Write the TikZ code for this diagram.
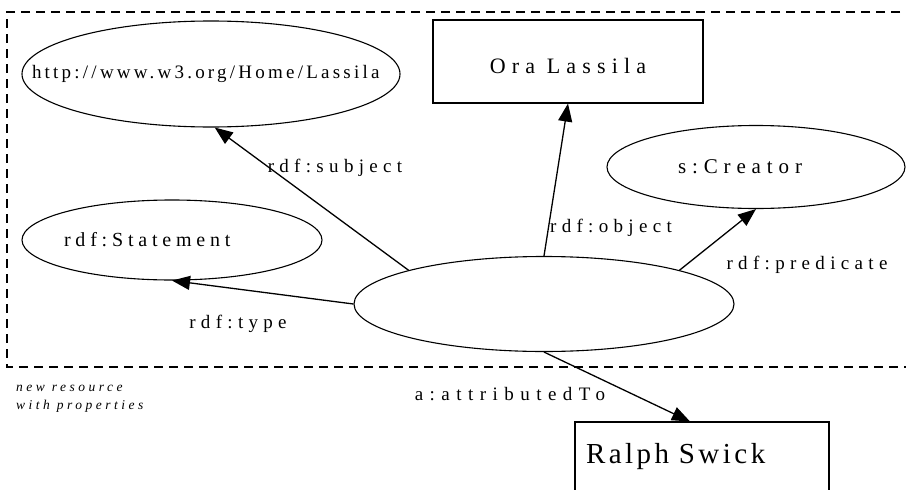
\documentclass[tikz,border=0pt]{standalone}
\usepackage{fontspec}
\setmainfont{Liberation Serif}
\newfontfamily\widefont[LetterSpace=28]{Liberation Serif}
\newfontfamily\urlfont[LetterSpace=17]{Liberation Serif}
\newfontfamily\namefont[LetterSpace=12]{Liberation Serif}
\newfontfamily\notefont[LetterSpace=26]{Liberation Serif}
\usetikzlibrary{positioning,arrows.meta,shapes.geometric}
% text set off the centre of its shape, as the reference has it
\newcommand{\offtext}[2]{\makebox[0pt][l]{\hspace*{-#1}#2}}

\begin{document}
\begin{tikzpicture}[x=1pt,y=-1pt,
  res/.style={ellipse,draw,line width=1.1pt,inner sep=0pt},
  lit/.style={rectangle,draw,line width=1.1pt,inner sep=0pt},
  arc/.style={-{Triangle[length=18pt,width=14pt]},line width=1.3pt},
  lbl/.style={font=\fontsize{19}{22}\selectfont\widefont,inner sep=0pt},
  frame/.style={line width=1.5pt,dash pattern=on 9pt off 6pt}]
\useasboundingbox (0,0) rectangle (906,490);
\clip (0,0) rectangle (906,490);
% grouping box round the reified statement
\draw[frame] (915,12) -| (7,367) -- (915,367);
% ===== resources and literals =====
\node[res,minimum width=378,minimum height=106,font=\fontsize{19}{22}\selectfont\urlfont]
  (url) at (211,74) {\offtext{179pt}{http://www.w3.org/Home/Lassila}};
\node[lit,minimum width=270,minimum height=83,font=\fontsize{22}{26}\selectfont\widefont]
  (ora) at (568,61.5) {\raisebox{-12pt}[0pt][0pt]{Ora Lassila}};
\node[res,minimum width=298,minimum height=83,font=\fontsize{21}{25}\selectfont\widefont]
  (creator) at (756,167) {\offtext{78pt}{s:Creator}};
\node[res,minimum width=300,minimum height=80,font=\fontsize{20}{24}\selectfont\widefont\addfontfeatures{LetterSpace=24}]
  (stmt) at (172,240) {\offtext{108pt}{rdf:Statement}};
\node[res,minimum width=380,minimum height=95] (mid) at (544,304) {};
\node[lit,minimum width=254,minimum height=70,text width=232,align=left,
  font=\fontsize{29}{34}\selectfont\namefont] (ralph) at (702,457) {Ralph Swick};
% ===== properties =====
\draw[arc] (mid.166) -- (url.274);
\draw[arc] (mid.north) -- (ora.south);
\draw[arc] (mid.14) -- (creator.south);
\draw[arc] (mid.west) -- (stmt.south);
\draw[arc] (mid.south) -- ([xshift=-12pt]ralph.north);
\node[lbl] (subjlbl) at (335,168) {rdf:subject};
\node[lbl] (objlbl) at (611,228) {rdf:object};
\node[lbl] (predlbl) at (807,265) {rdf:predicate};
\node[lbl] (typelbl) at (238,324) {rdf:type};
\node[lbl,font=\fontsize{19}{22}\selectfont\widefont\addfontfeatures{LetterSpace=34}]
  (attrlbl) at (510,394) {a:attributedTo};
\node[font=\fontsize{13.5}{18}\selectfont\notefont\itshape,align=left,anchor=west,inner sep=0pt]
  (note) at (16,399) {new resource\\with properties};
\end{tikzpicture}
\end{document}
